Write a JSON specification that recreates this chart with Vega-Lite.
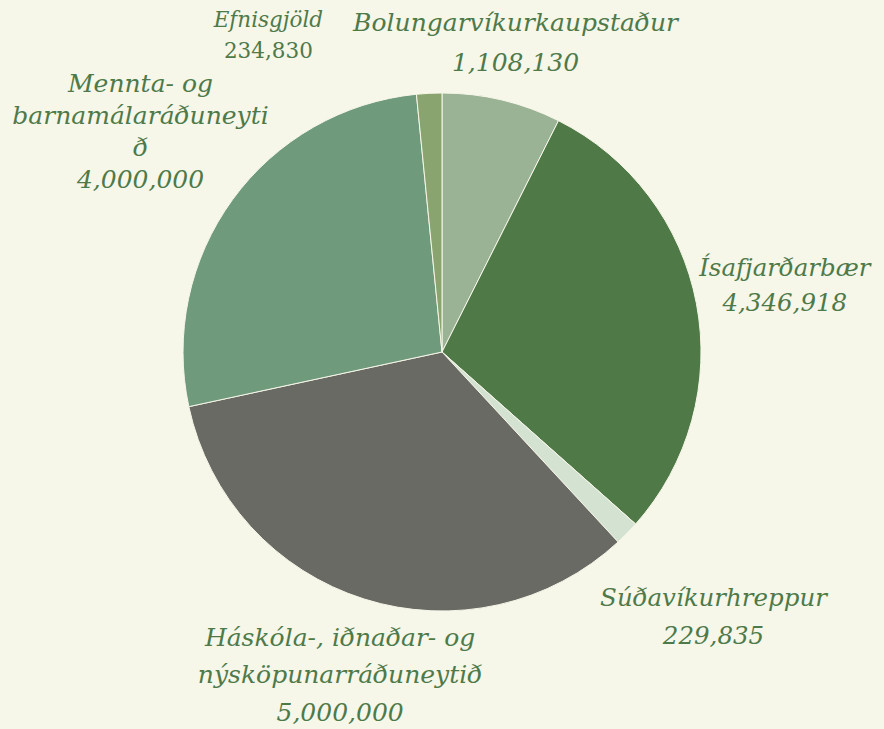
{
  "$schema": "https://vega.github.io/schema/vega-lite/v6.json",
  "width": 884,
  "height": 704,
  "autosize": "none",
  "padding": {"left": 0, "right": 0, "top": 0, "bottom": 25},
  "background": "#f6f6e9",
  "config": {"view": {"stroke": null}},
  "data": {
    "values": [
      {"key": "bol", "order": 1, "name": "Bolungarvíkurkaupstaður", "label": "Bolungarvíkurkaupstaður", "value": 1108130},
      {"key": "isa", "order": 2, "name": "Ísafjarðarbær", "label": "Ísafjarðarbær", "value": 4346918},
      {"key": "sud", "order": 3, "name": "Súðavíkurhreppur", "label": "Súðavíkurhreppur", "value": 229835},
      {"key": "has", "order": 4, "name": "Háskóla-, iðnaðar- og nýsköpunarráðuneytið", "label": "Háskóla-, iðnaðar- og\nnýsköpunarráðuneytið", "value": 5000000},
      {"key": "men", "order": 5, "name": "Mennta- og barnamálaráðuneytið", "label": "Mennta- og\nbarnamálaráðuneyti\nð", "value": 4000000},
      {"key": "efn", "order": 6, "name": "Efnisgjöld", "label": "Efnisgjöld", "value": 234830}
    ]
  },
  "transform": [
    {"calculate": "datum.label + '\\n' + format(datum.value, ',')", "as": "txt"}
  ],
  "layer": [
    {
      "mark": {"type": "arc", "outerRadius": 259, "stroke": "#f6f6e9", "strokeWidth": 1},
      "encoding": {
        "theta": {"field": "value", "type": "quantitative", "stack": true},
        "order": {"field": "order", "type": "quantitative"},
        "color": {
          "field": "name",
          "type": "nominal",
          "legend": null,
          "scale": {
            "domain": ["Bolungarvíkurkaupstaður", "Ísafjarðarbær", "Súðavíkurhreppur", "Háskóla-, iðnaðar- og nýsköpunarráðuneytið", "Mennta- og barnamálaráðuneytið", "Efnisgjöld"],
            "range": ["#9bb395", "#4f7946", "#d4e2d2", "#696a63", "#6f9a7c", "#89a46e"]
          }
        }
      }
    },
    {
      "mark": {"type": "text", "radius": 318, "dy": -20, "font": "DejaVu Serif", "fontStyle": "italic", "fontSize": 25, "lineBreak": "\n", "lineHeight": 40, "align": "center", "baseline": "middle", "color": "#4e7a49"},
      "encoding": {
        "theta": {"field": "value", "type": "quantitative", "stack": true},
        "order": {"field": "order", "type": "quantitative"},
        "text": {"field": "txt", "condition": {"test": "datum.key !== 'bol'", "value": ""}}
      }
    },
    {
      "mark": {"type": "text", "radius": 349, "dy": -17.5, "font": "DejaVu Serif", "fontStyle": "italic", "fontSize": 24.5, "lineBreak": "\n", "lineHeight": 35, "align": "center", "baseline": "middle", "color": "#4e7a49"},
      "encoding": {
        "theta": {"field": "value", "type": "quantitative", "stack": true},
        "order": {"field": "order", "type": "quantitative"},
        "text": {"field": "txt", "condition": {"test": "datum.key !== 'isa'", "value": ""}}
      }
    },
    {
      "mark": {"type": "text", "radius": 380, "dy": -19, "font": "DejaVu Serif", "fontStyle": "italic", "fontSize": 24.5, "lineBreak": "\n", "lineHeight": 38, "align": "center", "baseline": "middle", "color": "#4e7a49"},
      "encoding": {
        "theta": {"field": "value", "type": "quantitative", "stack": true},
        "order": {"field": "order", "type": "quantitative"},
        "text": {"field": "txt", "condition": {"test": "datum.key !== 'sud'", "value": ""}}
      }
    },
    {
      "mark": {"type": "text", "radius": 339, "dy": -37.5, "font": "DejaVu Serif", "fontStyle": "italic", "fontSize": 25, "lineBreak": "\n", "lineHeight": 37.5, "align": "center", "baseline": "middle", "color": "#4e7a49"},
      "encoding": {
        "theta": {"field": "value", "type": "quantitative", "stack": true},
        "order": {"field": "order", "type": "quantitative"},
        "text": {"field": "txt", "condition": {"test": "datum.key !== 'has'", "value": ""}}
      }
    },
    {
      "mark": {"type": "text", "radius": 373, "dy": -48, "font": "DejaVu Serif", "fontStyle": "italic", "fontSize": 25, "lineBreak": "\n", "lineHeight": 32, "align": "center", "baseline": "middle", "color": "#4e7a49"},
      "encoding": {
        "theta": {"field": "value", "type": "quantitative", "stack": true},
        "order": {"field": "order", "type": "quantitative"},
        "text": {"field": "txt", "condition": {"test": "datum.key !== 'men'", "value": ""}}
      }
    },
    {
      "mark": {"type": "text", "radius": 316, "dx": -158, "dy": -15.5, "font": "DejaVu Serif", "fontStyle": "italic", "fontSize": 21.5, "align": "center", "baseline": "middle", "color": "#4e7a49"},
      "encoding": {
        "theta": {"field": "value", "type": "quantitative", "stack": true},
        "order": {"field": "order", "type": "quantitative"},
        "text": {"field": "label", "condition": {"test": "datum.key !== 'efn'", "value": ""}}
      }
    },
    {
      "mark": {"type": "text", "radius": 316, "dx": -158, "dy": 15.5, "font": "DejaVu Serif", "fontStyle": "normal", "fontSize": 21.5, "align": "center", "baseline": "middle", "color": "#4e7a49"},
      "encoding": {
        "theta": {"field": "value", "type": "quantitative", "stack": true},
        "order": {"field": "order", "type": "quantitative"},
        "text": {"field": "value", "format": ",", "condition": {"test": "datum.key !== 'efn'", "value": ""}}
      }
    }
  ]
}
